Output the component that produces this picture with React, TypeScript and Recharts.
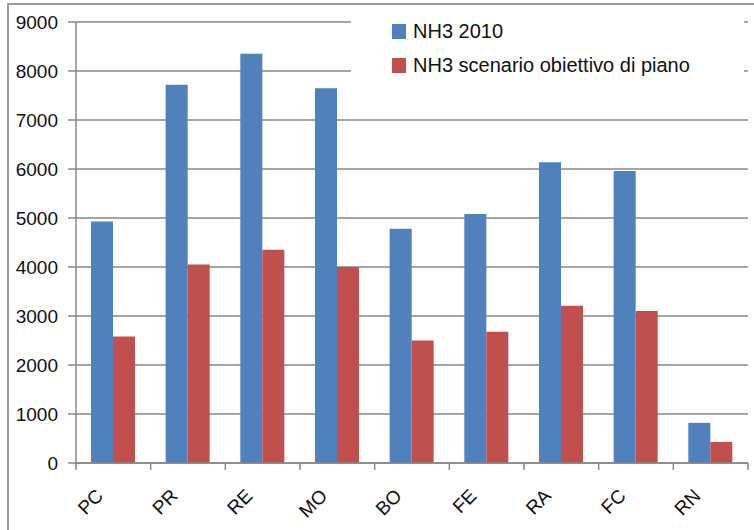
import React from 'react';
import { BarChart, Bar, XAxis, YAxis, CartesianGrid, Legend } from 'recharts';

// NH3 emissions by province: 2010 inventory vs. plan target scenario
const provinces = ['PC', 'PR', 'RE', 'MO', 'BO', 'FE', 'RA', 'FC', 'RN'];
const nh3Base2010 = [4930, 7720, 8350, 7650, 4780, 5080, 6140, 5960, 820];
const nh3PlanScenario = [2580, 4050, 4350, 4000, 2500, 2680, 3210, 3100, 430];
const yTicks = [0, 1000, 2000, 3000, 4000, 5000, 6000, 7000, 8000, 9000];
const seriesNames = ['NH3 2010', 'NH3 scenario obiettivo di piano'];
const seriesColors = ['#4F81BD', '#C0504D'];

const data = provinces.map((p, i) => ({
  provincia: p,
  base: nh3Base2010[i],
  scenario: nh3PlanScenario[i],
}));

// layout
const CHART_W = 754;
const CHART_H = 530;
const PLOT_LEFT = 76;
const PLOT_RIGHT = 748;
const PLOT_TOP = 22;
const PLOT_BOTTOM = 463;
const STEP = (PLOT_RIGHT - PLOT_LEFT) / provinces.length;
const AXIS_COLOR = '#878787';
const FONT = '"Liberation Sans", Arial, sans-serif';

const CategoryTick = (props: any) => {
  const { x, payload, index } = props;
  const y0 = PLOT_BOTTOM;
  const half = STEP / 2;
  const ax = x - 9;
  const ay = y0 + 34;
  return (
    <g>
      <line x1={x - half} x2={x - half} y1={y0} y2={y0 + 7} stroke={AXIS_COLOR} strokeWidth={1.5} />
      {index === provinces.length - 1 && (
        <line x1={x + half} x2={x + half} y1={y0} y2={y0 + 7} stroke={AXIS_COLOR} strokeWidth={1.5} />
      )}
      <text
        x={ax}
        y={ay}
        transform={`rotate(-45 ${ax} ${ay})`}
        textAnchor="end"
        fontSize={19}
        fontFamily={FONT}
        fill="#111"
      >
        {payload.value}
      </text>
    </g>
  );
};

const LegendBox = () => (
  <div style={{ position: 'relative', width: '100%', height: '100%' }}>
    {seriesNames.map((name, i) => (
      <div
        key={name}
        style={{
          position: 'absolute',
          left: 41,
          top: 14 + i * 34,
          display: 'flex',
          alignItems: 'center',
          height: 18,
          fontFamily: FONT,
          fontSize: 20,
          color: '#111',
          whiteSpace: 'nowrap',
        }}
      >
        <span
          style={{
            display: 'inline-block',
            width: 14,
            height: 15,
            background: seriesColors[i],
            marginRight: 7,
          }}
        />
        <span>{name}</span>
      </div>
    ))}
  </div>
);

export default function App() {
  return (
    <div style={{ position: 'absolute', left: 0, top: 0, width: CHART_W, height: CHART_H, background: '#fff' }}>
      <div
        style={{
          position: 'absolute',
          left: 7,
          top: 3,
          right: 0,
          bottom: 0,
          borderTop: '2px solid #9a9a9a',
          borderLeft: '2px solid #9a9a9a',
        }}
      />
      <BarChart
        width={CHART_W}
        height={CHART_H}
        data={data}
        margin={{ top: PLOT_TOP, right: CHART_W - PLOT_RIGHT, left: 0, bottom: 0 }}
        barGap={0}
        barSize={22}
      >
        <CartesianGrid vertical={false} stroke={AXIS_COLOR} strokeWidth={1.5} />
        <XAxis
          dataKey="provincia"
          height={CHART_H - PLOT_BOTTOM}
          axisLine={{ stroke: AXIS_COLOR, strokeWidth: 1.5 }}
          tickLine={false}
          tick={<CategoryTick />}
          interval={0}
        />
        <YAxis
          width={PLOT_LEFT}
          domain={[0, 9000]}
          ticks={yTicks}
          interval={0}
          axisLine={{ stroke: AXIS_COLOR, strokeWidth: 1.5 }}
          tickLine={{ stroke: AXIS_COLOR, strokeWidth: 1.5 }}
          tickSize={8}
          tickMargin={10}
          tick={{ fontSize: 19, fontFamily: FONT, fill: '#111' }}
        />
        <Legend
          layout="vertical"
          align="center"
          verticalAlign="middle"
          content={<LegendBox />}
          wrapperStyle={{ left: 351, top: 8, width: 393, height: 80, background: '#fff' }}
        />
        <Bar dataKey="base" name={seriesNames[0]} fill={seriesColors[0]} isAnimationActive={false} />
        <Bar dataKey="scenario" name={seriesNames[1]} fill={seriesColors[1]} isAnimationActive={false} />
      </BarChart>
    </div>
  );
}
